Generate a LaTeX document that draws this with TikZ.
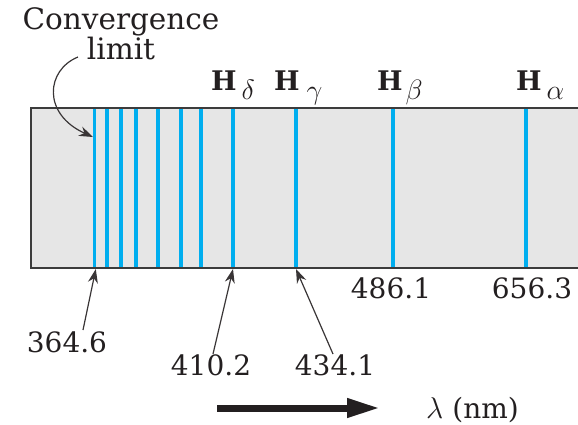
\documentclass[tikz,border=0pt]{standalone}
\usepackage{fix-cm}
\usepackage{fontspec}
\setmainfont{DejaVu Serif}
\usetikzlibrary{arrows.meta}
\definecolor{specblue}{HTML}{00AEEF}
\definecolor{specfill}{HTML}{E6E6E6}
\definecolor{edgegray}{HTML}{3C3C3C}
\definecolor{ink}{HTML}{231F20}
\newcommand{\hsub}[2]{H\hspace{#2}\raisebox{-9.5pt}{\fontsize{28}{28}\selectfont$#1$}}
\begin{document}
\begin{tikzpicture}[x=1pt,y=-1pt,
  lbl/.style={font=\fontsize{28}{28}\selectfont, text=ink, inner sep=3pt},
  hlbl/.style={font=\fontsize{27}{27}\selectfont\bfseries, text=ink, inner sep=0pt, anchor=base west},
  specline/.style={draw=specblue, line width=3.6pt},
  pointer/.style={draw=ink!90, line width=1.2pt, -{Stealth[length=14pt,width=10pt]}},
  bigarrow/.style={draw=ink, line width=7pt, -{Triangle[length=33pt,width=18pt]}}
]
\useasboundingbox (0,0) rectangle (578,424);

% spectrum strip
\fill[specfill] (31,108) rectangle (578,268);
\foreach \x/\n in {94.3/1,106.7/2,121/3,136/4,157.7/5,180.7/6,200.7/7,233/8,296/9,393/10,526/11}{
  \draw[specline] (\x,108) -- (\x,268);
  \coordinate (b\n) at (\x,269);
}
\draw[edgegray, line width=1.5pt] (578,108) -- (31,108) -- (31,268) -- (578,268);

% line names
\node[hlbl] (hd) at (211,90) {\hsub{\delta}{5pt}};
\node[hlbl] (hg) at (274,90) {\hsub{\gamma}{7pt}};
\node[hlbl] (hb) at (377,90) {\hsub{\beta}{3pt}};
\node[hlbl] (ha) at (516,90) {\hsub{\alpha}{5pt}};

% convergence limit
\node[lbl, align=center, font=\fontsize{29.5}{28}\selectfont] (conv) at (121,34) {Convergence\\limit};
\coordinate (cs) at (78,57);
\coordinate (ct) at (93,137);
\draw[pointer] (cs) .. controls (46,70) and (42,114) .. (ct);

% wavelengths
\node[lbl, anchor=base] (n364) at (67,352) {364.6};
\node[lbl, anchor=base] (n410) at (211,375) {410.2};
\node[lbl, anchor=base] (n434) at (335,375) {434.1};
\node[lbl, anchor=base] (n486) at (391,298) {486.1};
\node[lbl, anchor=base] (n656) at (532,298) {656.3};

\draw[pointer] ([xshift=16pt,yshift=-2pt]n364.north) -- ([xshift=1.5pt]b1);
\draw[pointer] ([xshift=2pt,yshift=-3pt]n410.north) -- (b8);
\draw[pointer] ([xshift=-2pt,yshift=-3pt]n434.north) -- (b9);

% direction arrow
\coordinate (as) at (217,408);
\coordinate (ae) at (380,408);
\draw[bigarrow] (as) -- (ae);
\node[lbl, anchor=base west, inner sep=0pt] (lam) at (426,418) {{\fontsize{30}{30}\selectfont$\lambda$}\hspace{9pt}(nm)};
\end{tikzpicture}
\end{document}
